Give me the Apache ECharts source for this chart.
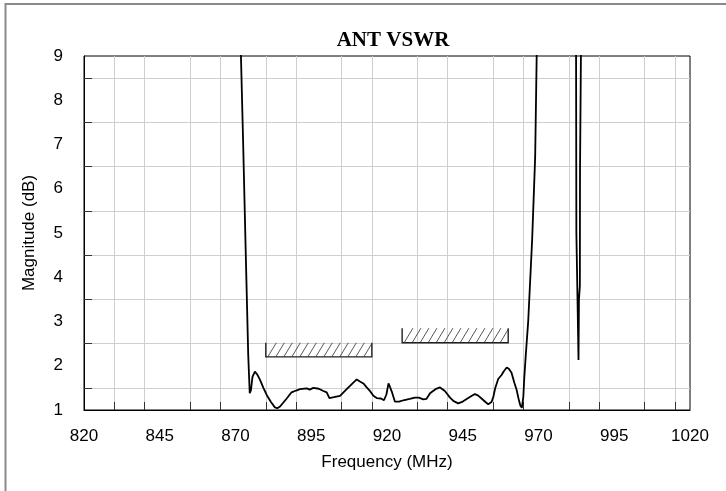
<!DOCTYPE html>
<html>
<head>
<meta charset="utf-8">
<script src="https://cdn.jsdelivr.net/npm/echarts@6/dist/echarts.min.js"></script>
<style>
html,body{margin:0;padding:0;background:#fff;}
#chart{width:726px;height:491px;}
</style>
</head>
<body>
<div id="chart"></div>
<script>
// Frequency (MHz) and magnitude (dB)
const freq = [871.5, 871.8, 872.5, 873.4, 874.2, 874.7, 875.1, 875.6, 876.4, 877.2, 878.1, 879.2, 880.3, 881.7, 883.0, 883.8, 884.7, 885.8, 886.9, 888.5, 890.0, 891.3, 893.5, 894.5, 895.7, 897.5, 899.0, 900.1, 901.0, 902.5, 904.5, 906.7, 908.3, 910.0, 911.2, 912.2, 913.3, 914.5, 915.5, 916.6, 918.0, 919.0, 919.8, 920.5, 921.0, 921.6, 922.6, 924.0, 925.4, 927.5, 929.2, 930.5, 932.0, 933.0, 934.2, 936.0, 937.5, 939.1, 940.8, 942.0, 943.5, 945.0, 946.3, 948.0, 949.0, 950.0, 951.2, 952.5, 953.4, 954.5, 955.1, 955.7, 956.7, 957.8, 958.5, 959.5, 960.2, 961.1, 962.0, 962.8, 963.4, 964.0, 964.5, 965.0, 965.3, 965.8, 966.6, 967.9, 968.9, 969.4, 969.6, 976.0, 982.35, 982.4, 982.5, 982.9, 983.2, 983.35, 983.65, 983.7, 984.0, 984.05];
const magnitude = [10, 9.0, 7.1, 4.5, 2.24, 1.38, 1.45, 1.75, 1.87, 1.8, 1.68, 1.5, 1.34, 1.18, 1.06, 1.04, 1.08, 1.17, 1.26, 1.40, 1.44, 1.47, 1.49, 1.46, 1.50, 1.48, 1.43, 1.40, 1.27, 1.29, 1.32, 1.47, 1.58, 1.69, 1.64, 1.60, 1.51, 1.42, 1.32, 1.27, 1.26, 1.22, 1.35, 1.60, 1.52, 1.41, 1.19, 1.19, 1.22, 1.25, 1.28, 1.28, 1.24, 1.25, 1.38, 1.47, 1.51, 1.43, 1.28, 1.20, 1.15, 1.19, 1.25, 1.32, 1.36, 1.33, 1.26, 1.18, 1.13, 1.18, 1.30, 1.49, 1.70, 1.79, 1.87, 1.96, 1.93, 1.84, 1.62, 1.45, 1.26, 1.10, 1.05, 1.30, 1.72, 2.24, 3.0, 4.84, 6.72, 9.0, 10, 12, 10, 9.0, 5.0, 3.4, 2.13, 3.5, 3.8, 6.4, 9.0, 10];

// Hatched spec boxes
const boxFreqStart = [880, 925];
const boxFreqEnd = [915, 960];
const boxMagLow = [2.2, 2.52];
const boxMagHigh = [2.52, 2.85];

// Axis ticks
const xMin = 820, xMax = 1020, xStep = 25;
const yMin = 1, yMax = 9, yStep = 1;
const xMinorTicks = [830, 840, 855, 865, 880, 890, 905, 915, 930, 940, 955, 965, 980, 990, 1005, 1015];
const yMinorTicks = [1.5, 2.5, 3.5, 4.5, 5.5, 6.5, 7.5, 8.5];

const title = 'ANT VSWR';
const xName = 'Frequency (MHz)';
const yName = 'Magnitude (dB)';

const lineData = freq.map((f, i) => [f, magnitude[i]]);
const boxData = boxFreqStart.map((x0, i) => [x0, boxFreqEnd[i], boxMagLow[i], boxMagHigh[i]]);

function renderBox(params, api) {
  const tl = api.coord([api.value(0), api.value(3)]);
  const br = api.coord([api.value(1), api.value(2)]);
  const left = tl[0], top = tl[1], right = br[0], bottom = br[1];
  const h = bottom - top;
  const dx = h * 0.6;
  const spacing = 8;
  const children = [];
  for (let xb = left + 2; xb < right; xb += spacing) {
    let xt = xb + dx, yt = top;
    if (xt > right) {
      const t = (right - xb) / dx;
      xt = right; yt = bottom - t * h;
    }
    children.push({
      type: 'line',
      shape: { x1: xb, y1: bottom, x2: xt, y2: yt },
      style: { stroke: '#444', lineWidth: 0.9 }
    });
  }
  children.push({
    type: 'polyline',
    shape: { points: [[left, top], [left, bottom], [right, bottom], [right, top]] },
    style: { stroke: '#222', lineWidth: 1.4, fill: null }
  });
  return { type: 'group', children: children };
}

const chart = echarts.init(document.getElementById('chart'), null, { renderer: 'canvas' });
chart.setOption({
  animation: false,
  backgroundColor: '#fff',
  title: {
    text: title,
    left: 388, top: 25, textAlign: 'center',
    textStyle: { fontFamily: 'Liberation Serif', fontWeight: 'bold', fontSize: 21, color: '#000' }
  },
  grid: {
    left: 84, right: 36, top: 56, bottom: 81,
    show: true, borderColor: '#000', borderWidth: 1, backgroundColor: 'transparent'
  },
  xAxis: {
    type: 'value', min: xMin, max: xMax, interval: xStep,
    name: xName, nameLocation: 'middle', nameGap: 44,
    nameTextStyle: { fontFamily: 'Liberation Sans', fontSize: 17, color: '#000' },
    axisLine: { show: true, lineStyle: { color: '#000', width: 1 } },
    axisTick: { show: true, inside: true, length: 8, customValues: xMinorTicks, lineStyle: { color: '#333', width: 1 } },
    axisLabel: { margin: 18, fontFamily: 'Liberation Sans', fontSize: 17, color: '#000', formatter: v => String(v) },
    splitLine: { show: true, lineStyle: { color: '#cfcfcf', width: 1 } }
  },
  yAxis: {
    type: 'value', min: yMin, max: yMax, interval: yStep,
    name: yName, nameLocation: 'middle', nameGap: 46, nameRotate: 90,
    nameTextStyle: { fontFamily: 'Liberation Sans', fontSize: 17, color: '#000' },
    axisLine: { show: true, lineStyle: { color: '#000', width: 1 } },
    axisTick: { show: true, inside: true, length: 8, customValues: yMinorTicks, lineStyle: { color: '#333', width: 1 } },
    axisLabel: { margin: 21, fontFamily: 'Liberation Sans', fontSize: 17, color: '#000', formatter: v => String(v) },
    splitLine: { show: true, lineStyle: { color: '#cfcfcf', width: 1 } }
  },
  graphic: [
    { type: 'line', shape: { x1: 5.5, y1: 3, x2: 5.5, y2: 491 }, style: { stroke: '#8a8a8a', lineWidth: 2 } },
    { type: 'line', shape: { x1: 5, y1: 4, x2: 726, y2: 4 }, style: { stroke: '#8a8a8a', lineWidth: 2 } }
  ],
  series: [
    {
      type: 'custom',
      renderItem: renderBox,
      data: boxData,
      encode: { x: [0, 1], y: [2, 3] },
      z: 3
    },
    {
      type: 'line',
      data: lineData,
      showSymbol: false,
      symbol: 'none',
      clip: true,
      lineStyle: { color: '#000', width: 1.8 },
      z: 4
    }
  ]
});
</script>
</body>
</html>
